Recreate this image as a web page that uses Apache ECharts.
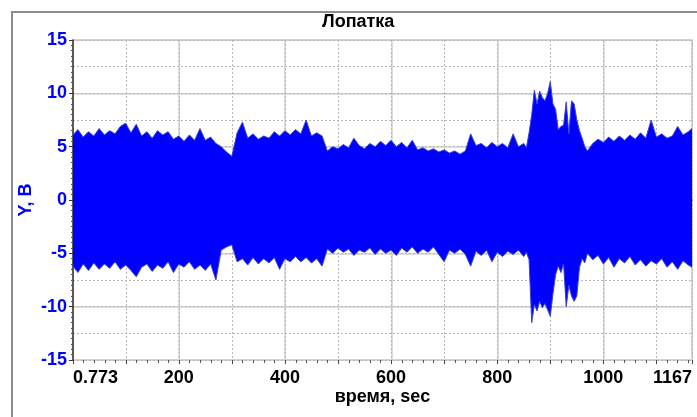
<!DOCTYPE html>
<html>
<head>
<meta charset="utf-8">
<script src="https://cdn.jsdelivr.net/npm/echarts@6/dist/echarts.min.js"></script>
<style>
html, body { margin: 0; padding: 0; background: #fff; }
#chart { width: 697px; height: 417px; }
</style>
</head>
<body>
<div id="chart"></div>
<script>
// Лопатка - signal envelope, Y [B] over time [sec]

var times = [0.773, 10, 20, 30, 40, 50, 60, 70, 80, 90,
    100, 110, 120, 130, 140, 150, 160, 170, 180, 190,
    200, 210, 220, 230, 240, 250, 260, 270, 280, 290,
    300, 310, 320, 330, 340, 350, 360, 370, 380, 390,
    400, 410, 420, 430, 440, 450, 460, 470, 480, 490,
    500, 510, 520, 530, 540, 550, 560, 570, 580, 590,
    600, 610, 620, 630, 640, 650, 660, 670, 680, 690,
    700, 710, 720, 730, 740, 750, 760, 770, 780, 790,
    800, 810, 820, 830, 840,
    850, 855, 860, 865, 870, 875, 880, 885, 890, 895,
    900, 905, 910, 915, 920, 925, 930, 935, 940, 945,
    950, 955, 960, 965, 970,
    980, 990,
    1000, 1010, 1020, 1030, 1040, 1050, 1060, 1070, 1080, 1090,
    1100, 1110, 1120, 1130, 1140, 1150, 1160, 1167];

// upper edge of the signal
var upper = [6.1, 6.6, 5.9, 6.4, 6.0, 6.7, 6.1, 6.5, 6.2, 6.9,
    7.2, 6.3, 7.1, 6.0, 6.4, 5.8, 6.5, 6.1, 6.4, 5.7,
    6.0, 5.5, 6.1, 5.6, 6.7, 5.6, 5.9, 5.3, 5.0, 4.5,
    4.1, 6.3, 7.3, 5.8, 6.2, 5.7, 6.0, 5.8, 6.4, 6.0,
    6.5, 6.1, 6.6, 6.2, 7.5, 6.0, 6.3, 6.0, 4.6, 5.0,
    4.8, 5.2, 4.9, 5.8, 5.1, 4.8, 5.3, 5.0, 5.5, 5.1,
    5.6, 5.0, 5.4, 4.9, 5.6, 4.7, 4.9, 4.6, 4.8, 4.5,
    4.7, 4.4, 4.6, 4.3, 4.6, 6.2, 5.1, 5.3, 4.9, 5.4,
    5.0, 5.3, 4.9, 6.2, 5.0,
    5.3, 4.9, 6.3, 8.0, 10.3, 9.0, 10.2, 9.6, 9.3, 10.0,
    11.1, 9.0, 8.5, 6.6, 6.9, 7.0, 9.2, 6.2, 9.3, 9.0,
    7.5, 6.5, 5.8, 5.0, 4.6,
    5.3, 5.7,
    5.4, 5.9, 5.5, 6.0, 5.6, 6.1, 5.7, 6.3, 5.8, 7.5,
    5.9, 6.2, 5.8, 6.0, 6.9, 6.1, 6.4, 6.7];

// lower edge of the signal
var lower = [-6.2, -6.8, -6.0, -6.6, -5.9, -6.5, -6.0, -6.4, -5.8, -6.5,
    -6.1, -6.6, -7.2, -6.3, -6.0, -6.7, -6.1, -6.4, -5.8, -6.8,
    -6.0, -6.3, -5.8, -6.5, -6.1, -6.6, -6.0, -7.5, -4.7, -4.4,
    -4.2, -5.8, -5.5, -6.1, -5.4, -6.0, -5.5, -5.9, -5.4, -6.5,
    -5.5, -5.8, -5.3, -5.8, -5.4, -5.9, -5.5, -6.2, -4.6, -5.0,
    -4.5, -4.9, -4.6, -5.2, -4.7, -4.9, -4.5, -5.1, -4.6, -5.0,
    -4.7, -5.2, -4.5, -4.9, -4.4, -5.0, -4.6, -4.9, -4.4, -5.1,
    -5.8, -4.7, -5.0, -4.6, -5.1, -6.2, -4.8, -5.2, -4.7, -5.8,
    -4.9, -5.3, -4.8, -5.1, -4.7,
    -5.3, -4.9, -5.6, -11.5, -9.8, -10.4, -9.5, -10.1, -9.7, -10.3,
    -10.9, -8.8, -7.0, -6.2, -6.8, -6.0, -10.0, -8.0, -9.0, -9.5,
    -9.0, -6.3, -5.5, -5.9, -5.0,
    -5.6, -5.2,
    -6.0, -5.4, -6.3, -5.5, -5.9, -5.3, -6.1, -5.6, -6.2, -5.7,
    -6.0, -5.5, -6.3, -5.8, -6.5, -5.7, -6.1, -6.3];

var xLabels = [0.773, 200, 400, 600, 800, 1000, 1167];

var upperData = upper.map(function (v, i) { return [times[i], v]; });
var lowerData = lower.map(function (v, i) { return [times[i], v]; });

var font = 'Liberation Sans, Arial, sans-serif';
var blue = '#0000ff';

var chart = echarts.init(document.getElementById('chart'));
var option = {
    animation: false,
    backgroundColor: '#fff',
    title: {
        text: 'Лопатка',
        left: 322,
        top: 13,
        padding: 0,
        textStyle: { fontFamily: font, fontSize: 18, fontWeight: 'bold', color: '#000' }
    },
    graphic: [{
        type: 'rect',
        shape: { x: 12, y: 12, width: 720, height: 440 },
        style: { fill: null, stroke: '#8c8c8c', lineWidth: 2 },
        z: -1
    }],
    grid: {
        left: 73, right: 5, top: 40, bottom: 57,
        show: true, borderColor: '#cfcfcf', borderWidth: 1.5
    },
    xAxis: [{
        type: 'value', min: 0.773, max: 1167, position: 'bottom',
        name: 'время, sec', nameLocation: 'middle', nameGap: 28, nameMoveOverlap: false,
        nameTextStyle: { fontFamily: font, fontSize: 18, fontWeight: 'bold', color: '#000' },
        axisLine: { show: true, lineStyle: { color: '#333', width: 1.5 } },
        axisTick: { show: false },
        splitLine: { show: false },
        axisLabel: {
            customValues: xLabels,
            alignMinLabel: 'left', alignMaxLabel: 'right',
            formatter: function (v) { return String(v); },
            margin: 9,
            fontFamily: font, fontSize: 18, fontWeight: 'bold', color: '#000'
        }
    }, {
        // solid grid every 200 sec
        type: 'value', min: 0, max: 1167, interval: 200, position: 'bottom',
        axisLine: { show: false }, axisTick: { show: false }, axisLabel: { show: false },
        splitLine: { show: true, lineStyle: { color: '#d0d0d0', width: 1.5 } }
    }, {
        // dotted grid every 100 sec + small ticks
        type: 'value', min: 0, max: 1167, interval: 100, position: 'bottom',
        axisLine: { show: false }, axisLabel: { show: false },
        axisTick: { show: true, length: 4, lineStyle: { color: '#444' } },
        minorTick: { show: true, splitNumber: 5, length: 3, lineStyle: { color: '#555' } },
        splitLine: { show: true, lineStyle: { color: '#b8b8b8', width: 1, type: [2, 2] } }
    }],
    yAxis: [{
        type: 'value', min: -15, max: 15, interval: 5,
        name: 'Y, B', nameLocation: 'middle', nameGap: 38, nameMoveOverlap: false,
        nameTextStyle: { fontFamily: font, fontSize: 18, fontWeight: 'bold', color: blue },
        axisLine: { show: true, lineStyle: { color: '#333', width: 1.5 } },
        axisTick: { show: true, length: 4, lineStyle: { color: '#333' } },
        minorTick: { show: true, splitNumber: 10, length: 2, lineStyle: { color: '#555' } },
        splitLine: { show: true, lineStyle: { color: '#d0d0d0', width: 1.5 } },
        axisLabel: { margin: 6, fontFamily: font, fontSize: 18, fontWeight: 'bold', color: blue }
    }, {
        // dotted grid every 2.5
        type: 'value', min: -15, max: 15, interval: 2.5, position: 'left',
        axisLine: { show: false }, axisTick: { show: false }, axisLabel: { show: false },
        splitLine: { show: true, lineStyle: { color: '#b8b8b8', width: 1, type: [2, 2] } }
    }],
    series: [{
        type: 'line', xAxisIndex: 0, yAxisIndex: 0,
        data: upperData, symbol: 'none', z: 5,
        lineStyle: { color: '#3a44c8', width: 1 },
        areaStyle: { color: blue, opacity: 1 }
    }, {
        type: 'line', xAxisIndex: 0, yAxisIndex: 0,
        data: lowerData, symbol: 'none', z: 5,
        lineStyle: { color: '#3a44c8', width: 1 },
        areaStyle: { color: blue, opacity: 1 }
    }]
};
chart.setOption(option);
</script>
</body>
</html>
